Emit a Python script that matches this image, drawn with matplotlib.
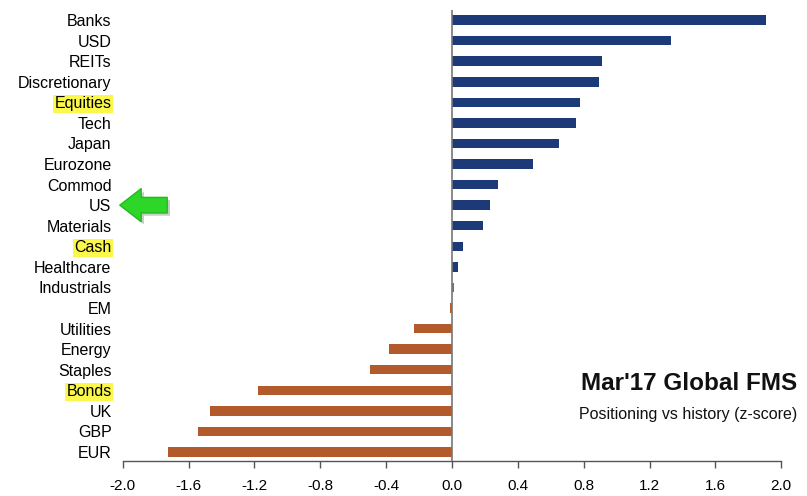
import matplotlib
matplotlib.use("Agg")
import matplotlib.pyplot as plt
import matplotlib.patches as mpatches
import matplotlib.patheffects as pe

categories = ["Banks", "USD", "REITs", "Discretionary", "Equities", "Tech", "Japan",
              "Eurozone", "Commod", "US", "Materials", "Cash", "Healthcare",
              "Industrials", "EM", "Utilities", "Energy", "Staples", "Bonds",
              "UK", "GBP", "EUR"]
zscores = [1.91, 1.33, 0.91, 0.895, 0.78, 0.755, 0.65, 0.49, 0.28, 0.23, 0.19,
           0.065, 0.035, 0.012, -0.01, -0.23, -0.38, -0.50, -1.18, -1.47,
           -1.54, -1.725]
highlighted = ["Equities", "Cash", "Bonds"]
arrow_label = "US"
n_navy = 13
xticks = [-2.0, -1.6, -1.2, -0.8, -0.4, 0.0, 0.4, 0.8, 1.2, 1.6, 2.0]
title = "Mar'17 Global FMS"
subtitle = "Positioning vs history (z-score)"

plt.rcParams['font.family'] = ['Liberation Sans', 'DejaVu Sans']

W, H = 807, 496
fig = plt.figure(figsize=(W / 100, H / 100), dpi=100)
x0, x1 = 122.7, 781.3
ytop, ybot = 10, 461
ax = fig.add_axes([x0 / W, (H - ybot) / H, (x1 - x0) / W, (ybot - ytop) / H])

navy = "#1d3a78"
orange = "#b35a2c"
colors = [navy if i < n_navy else orange for i in range(len(categories))]
ypos = list(range(len(categories)))
ax.barh(ypos, zscores, height=0.46, color=colors, zorder=2)

ax.set_xlim(-2.0, 2.0)
ax.set_ylim(21.44, -0.49)
ax.set_xticks(xticks)
ax.set_xticklabels([f"{t:.1f}" for t in xticks], fontsize=11)
ax.tick_params(axis='x', direction='out', length=5, width=1, color="#555555", pad=8)
ax.set_yticks(ypos)
ax.set_yticklabels(categories, fontsize=11.5)
ax.tick_params(axis='y', length=0, pad=8)
for lab in ax.get_yticklabels():
    if lab.get_text() in highlighted:
        lab.set_bbox(dict(facecolor="#fbf74b", edgecolor="none", pad=1.0))

for s in ["top", "right", "left"]:
    ax.spines[s].set_visible(False)
ax.spines["bottom"].set_color("#555555")
ax.spines["bottom"].set_linewidth(1.0)
ax.axvline(0, color="#777777", linewidth=1.2, zorder=3)

# Green arrow pointing at US label
iy = categories.index(arrow_label)
yrow = ytop + (iy + 0.49) / (21.44 + 0.49) * (ybot - ytop)
yfig = (H - yrow) / H
arrow = mpatches.FancyArrowPatch((170 / W, yfig), (117 / W, yfig),
                                 transform=fig.transFigure,
                                 arrowstyle="simple,head_length=1.1,head_width=1.7,tail_width=0.8",
                                 mutation_scale=14, facecolor="#2fd62a",
                                 edgecolor="#25b820", linewidth=1.0,
                                 joinstyle="round", capstyle="round")
arrow.set_path_effects([pe.SimplePatchShadow(offset=(2, -2), alpha=0.25), pe.Normal()])
fig.patches.append(arrow)

fig.text(797 / W, (H - 383) / H, title, ha="right", va="center",
         fontsize=17.5, fontweight="bold", color="#111111")
fig.text(797 / W, (H - 415) / H, subtitle, ha="right", va="center",
         fontsize=11.5, color="#111111")

fig.savefig("out.png", dpi=100)
